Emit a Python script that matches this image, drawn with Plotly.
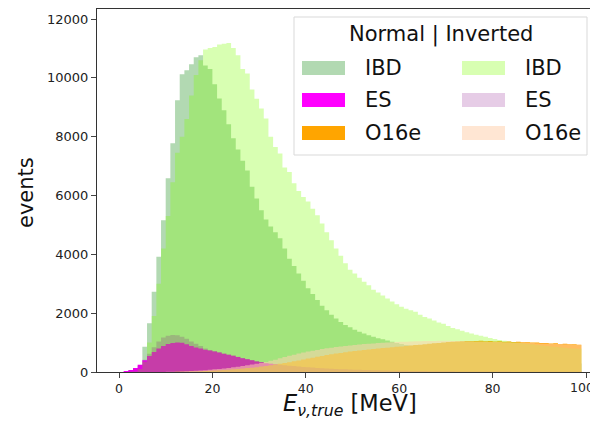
import plotly.graph_objects as go

# ---- data (bin width 1 MeV, bins 0..99) ----
bin_edges = list(range(0, 100))  # edges 0..99

ibd_normal = [0, 0, 10, 40, 200, 860, 1660, 2730, 3915, 5160,
              6590, 7775, 9240, 10120, 10255, 10460, 10700, 10765, 10420, 10300,
              9780, 9300, 8900, 8420, 7950, 7560, 7180, 6850, 6300, 5900,
              5500, 5180, 4950, 4750, 4550, 4200, 3850, 3600, 3350, 3100,
              2850, 2650, 2450, 2250, 2100, 1950, 1820, 1700, 1600, 1520,
              1440, 1370, 1310, 1250, 1200, 1150, 1110, 1070, 1030, 990,
              950, 920, 890, 860, 830, 800, 775, 750, 725, 700,
              680, 660, 640, 620, 600, 580, 560, 545, 530, 515,
              500, 485, 470, 455, 440, 425, 410, 400, 390, 380,
              370, 360, 350, 340, 330, 320, 310, 300, 290]

es_normal = [0, 30, 70, 135, 250, 400, 540, 680, 800, 880,
             950, 990, 1000, 995, 940, 880, 830, 800, 760, 730,
             700, 660, 620, 585, 550, 510, 470, 435, 400, 360,
             330, 300, 280, 260, 240, 225, 210, 195, 180, 168,
             156, 145, 135, 125, 116, 108, 100, 93, 87, 81,
             75, 70, 65, 61, 57, 53, 50, 47, 44, 41,
             39, 37, 35, 33, 31, 29, 28, 26, 25, 24,
             22, 21, 20, 19, 18, 17, 16, 16, 15, 14,
             14, 13, 12, 12, 11, 11, 10, 10, 9, 9,
             9, 8, 8, 8, 7, 7, 7, 6, 6]

o16e_normal = [0, 0, 0, 0, 0, 0, 0, 0, 0, 0,
               2, 3, 5, 7, 10, 14, 19, 25, 32, 40,
               48, 57, 67, 78, 90, 103, 117, 132, 148, 165,
               185, 205, 228, 252, 278, 305, 333, 362, 392, 423,
               455, 487, 518, 548, 576, 602, 627, 650, 672, 693,
               713, 732, 750, 767, 783, 798, 812, 826, 840, 855,
               870, 885, 900, 915, 930, 945, 960, 975, 990, 1005,
               1020, 1030, 1040, 1045, 1050, 1055, 1050, 1060, 1045, 1050,
               1040, 1045, 1030, 1035, 1020, 1030, 1010, 1015, 1000, 1005,
               985, 990, 970, 975, 955, 960, 940, 945, 930]

ibd_inverted = [0, 0, 5, 20, 100, 350, 1000, 1900, 3000, 4200,
                5300, 6450, 7450, 8000, 8600, 9400, 10100, 10600, 10960, 11010,
                11050, 11130, 11160, 11185, 11010, 10765, 10300, 10150, 9600, 9290,
                8960, 8615, 8000, 7650, 7430, 6950, 6800, 6420, 6150, 5950,
                5800, 5550, 5330, 5050, 4750, 4480, 4200, 3950, 3700, 3480,
                3350, 3200, 3070, 2950, 2800, 2700, 2600, 2500, 2400, 2300,
                2220, 2150, 2100, 2050, 1950, 1870, 1820, 1750, 1680, 1640,
                1560, 1500, 1450, 1400, 1350, 1310, 1270, 1230, 1200, 1160,
                1120, 1090, 1060, 1040, 1020, 1000, 980, 960, 940, 920,
                900, 885, 870, 855, 840, 825, 810, 800, 790]

es_inverted = [0, 20, 60, 130, 250, 420, 620, 840, 1040, 1170,
               1230, 1255, 1250, 1200, 1130, 1040, 960, 880, 800, 750,
               715, 670, 630, 595, 560, 520, 480, 445, 410, 370,
               340, 310, 290, 270, 250, 232, 216, 200, 186, 173,
               160, 149, 139, 129, 120, 112, 104, 97, 90, 84,
               78, 73, 68, 64, 60, 56, 52, 49, 46, 43,
               41, 39, 37, 35, 33, 31, 29, 28, 26, 25,
               23, 22, 21, 20, 19, 18, 17, 17, 16, 15,
               15, 14, 13, 13, 12, 12, 11, 11, 10, 10,
               10, 9, 9, 9, 8, 8, 8, 7, 7]

o16e_inverted = [0, 0, 0, 0, 0, 0, 0, 0, 0, 0,
                 5, 8, 12, 16, 22, 30, 40, 50, 62, 75,
                 90, 105, 122, 140, 160, 180, 205, 230, 255, 280,
                 305, 340, 380, 420, 470, 510, 550, 590, 630, 665,
                 695, 722, 750, 780, 805, 828, 850, 870, 888, 905,
                 920, 935, 948, 960, 972, 983, 993, 1002, 1010, 1018,
                 1025, 1032, 1038, 1044, 1049, 1053, 1056, 1058, 1060, 1061,
                 1060, 1058, 1055, 1052, 1048, 1045, 1040, 1036, 1032, 1028,
                 1024, 1020, 1015, 1010, 1005, 1000, 995, 990, 984, 978,
                 972, 966, 960, 954, 948, 942, 936, 930, 924]

x_ticks = [0, 20, 40, 60, 80, 100]
y_ticks = [0, 2000, 4000, 6000, 8000, 10000, 12000]
y_tick_labels = ["0", "2000", "4000", "6000", "8000", "10000", "12000"]
x_tick_labels = ["0", "20", "40", "60", "80", "100"]

# (name, values, rgba fill, legend column, legend row)
series = [
    ("IBD (Normal)", ibd_normal, "rgba(0,128,0,0.3)", 0, 0),
    ("ES (Normal)", es_normal, "rgba(255,0,255,1)", 0, 1),
    ("O16e (Normal)", o16e_normal, "rgba(255,165,0,1)", 0, 2),
    ("IBD (Inverted)", ibd_inverted, "rgba(127,255,0,0.3)", 1, 0),
    ("ES (Inverted)", es_inverted, "rgba(128,0,128,0.2)", 1, 1),
    ("O16e (Inverted)", o16e_inverted, "rgba(255,210,175,0.55)", 1, 2),
]
legend_labels = ["IBD", "ES", "O16e"]

fig = go.Figure()
edges = bin_edges
for name, vals, col, _, _ in series:
    fig.add_trace(go.Scatter(
        x=edges, y=list(vals) + [vals[-1]],
        mode="lines", line=dict(width=0, shape="hv"),
        fill="tozeroy", fillcolor=col, name=name,
        showlegend=False, hoverinfo="skip",
    ))

# The page body adds an 8px offset, so the figure is 8px smaller than the window
OFF = 8
W, H = 598 - OFF, 425 - OFF
# target plot area in window pixels: left 97, top 9, right 598, bottom 372
ml, mt = 97 - OFF, 9 - OFF
mr = 0
mb = (425 - 372)
pw, ph = W - ml - mr, H - mt - mb

def px2paper_x(px):  # px in window coordinates
    return (px - OFF - ml) / pw

def px2paper_y(py):
    return (H - mb - (py - OFF)) / ph

shapes = []
annotations = []
# legend box
x0, x1 = px2paper_x(294), px2paper_x(587)
y0, y1 = px2paper_y(155), px2paper_y(17)
shapes.append(dict(type="rect", xref="paper", yref="paper", x0=x0, x1=x1, y0=y0, y1=y1,
                   line=dict(color="#d9d9d9", width=1), fillcolor="rgba(255,255,255,0.8)",
                   layer="above"))
annotations.append(dict(xref="paper", yref="paper", x=px2paper_x(441), y=px2paper_y(35),
                        text="Normal | Inverted", showarrow=False,
                        font=dict(family="DejaVu Sans", size=21, color="#111"),
                        xanchor="center", yanchor="middle"))
col_sw_x = [(302, 345), (462, 505)]
col_tx_x = [363, 523]
row_y = [68, 100, 133]
for name, vals, col, c, r in series:
    sx0, sx1 = col_sw_x[c]
    cy = row_y[r]
    shapes.append(dict(type="rect", xref="paper", yref="paper",
                       x0=px2paper_x(sx0), x1=px2paper_x(sx1),
                       y0=px2paper_y(cy + 7), y1=px2paper_y(cy - 7),
                       line=dict(width=0), fillcolor=col, layer="above"))
    annotations.append(dict(xref="paper", yref="paper", x=px2paper_x(col_tx_x[c]),
                            y=px2paper_y(cy), text=legend_labels[r], showarrow=False,
                            font=dict(family="DejaVu Sans", size=21, color="#111"),
                            xanchor="left", yanchor="middle"))

# axis titles as annotations (fixed positions)
annotations.append(dict(xref="paper", yref="paper", x=px2paper_x(350), y=px2paper_y(405),
                        text="<i>E</i><sub><i>ν,true</i></sub> [MeV]", showarrow=False,
                        font=dict(family="DejaVu Sans", size=22.5, color="#111"),
                        xanchor="center", yanchor="middle"))
annotations.append(dict(xref="paper", yref="paper", x=px2paper_x(26), y=px2paper_y(193),
                        text="events", showarrow=False, textangle=-90,
                        font=dict(family="DejaVu Sans", size=21, color="#111"),
                        xanchor="center", yanchor="middle"))
# last x tick label sits at the window edge: place it right-aligned so it stays visible
annotations.append(dict(xref="paper", yref="paper", x=px2paper_x(595), y=px2paper_y(387),
                        text=x_tick_labels[-1], showarrow=False, borderpad=0,
                        font=dict(family="DejaVu Sans", size=12.5, color="#222"),
                        xanchor="right", yanchor="middle"))
x_tick_text = x_tick_labels[:-1] + [""]

fig.update_layout(
    width=W, height=H,
    margin=dict(l=ml, r=mr, t=mt, b=mb, pad=0, autoexpand=False),
    paper_bgcolor="white", plot_bgcolor="white",
    showlegend=False,
    shapes=shapes, annotations=annotations,
    font=dict(family="DejaVu Sans", color="#222"),
    xaxis=dict(range=[-4.71, 102.57], tickvals=x_ticks, ticktext=x_tick_text,
               ticks="outside", ticklen=5, automargin=False,
               tickcolor="#444", showline=True, linecolor="#333", linewidth=1, mirror=True,
               showgrid=False, zeroline=False, tickfont=dict(size=12.5, color="#222")),
    yaxis=dict(range=[0, 12340], tickvals=y_ticks, ticktext=y_tick_labels,
               ticks="outside", ticklen=5, automargin=False,
               tickcolor="#444", showline=True, linecolor="#333", linewidth=1, mirror=False,
               showgrid=False, zeroline=False, tickfont=dict(size=13, color="#222")),
)

fig.write_html("out.html")
